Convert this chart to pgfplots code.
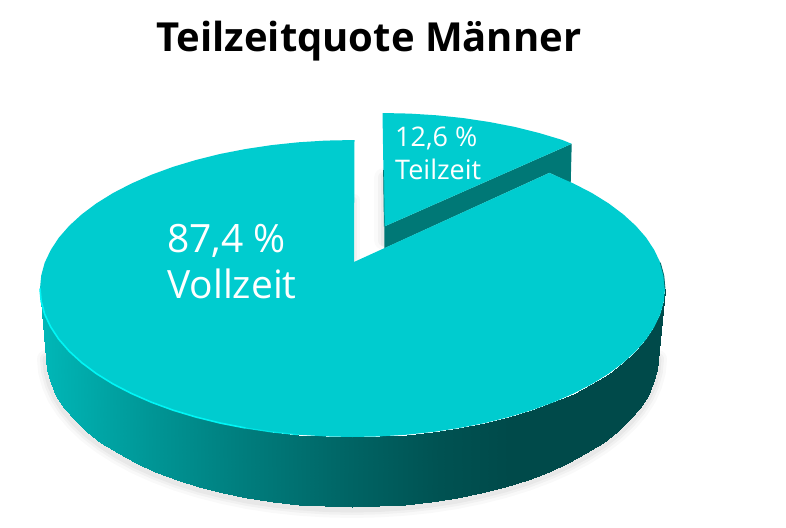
\documentclass[border=0pt]{standalone}
\usepackage{pgfplots}
\pgfplotsset{compat=1.18}
\usepackage{pgfplotstable}
\usepackage{fontspec}
\setmainfont{Open Sans}

% lower rim of the big slice's side
\pgfplotstableread{
x y
46.0 357.0
47.2 370.1
50.7 383.0
56.4 395.8
64.5 408.3
74.7 420.4
87.0 432.0
101.3 443.0
117.6 453.4
135.6 463.1
155.3 471.9
176.5 479.9
199.0 486.9
222.7 492.9
247.3 498.0
272.8 501.9
298.9 504.7
325.3 506.4
352.0 507.0
378.7 506.4
405.1 504.7
431.2 501.9
456.7 498.0
481.3 492.9
505.0 486.9
527.5 479.9
548.7 471.9
568.4 463.1
586.4 453.4
602.7 443.0
617.0 432.0
629.3 420.4
639.5 408.3
647.6 395.8
653.3 383.0
656.8 370.1
658.0 357.0
}\rimlow

\definecolor{pietop}{RGB}{0,204,207}
\definecolor{smallside}{RGB}{0,120,118}

\begin{document}
\begin{tikzpicture}
\begin{axis}[
    x=1pt, y=1pt,
    xmin=0, xmax=786,
    ymin=0, ymax=527,
    y dir=reverse,
    hide axis,
    clip=false,
    point meta min=40, point meta max=665,
    colormap={side}{
        rgb255(40pt)=(0,184,184);
        rgb255(150pt)=(0,150,150);
        rgb255(240pt)=(0,126,126);
        rgb255(350pt)=(0,100,100);
        rgb255(440pt)=(0,82,82);
        rgb255(510pt)=(0,74,74);
        rgb255(665pt)=(0,74,74)
    },
]
\path (axis cs:0,0) rectangle (axis cs:786,527);

% soft shadow under the pie
\addplot[black, opacity=0.025, line width=18pt, line join=round, line cap=round, yshift=-2pt] table {\rimlow};
\addplot[black, opacity=0.03, line width=12pt, line join=round, line cap=round, yshift=-2pt] table {\rimlow};
\addplot[black, opacity=0.04, line width=7pt, line join=round, line cap=round, yshift=-2pt] table {\rimlow};

% shadow in the gap
\addplot[black, opacity=0.02, line width=20pt, line cap=round] coordinates {(384,178) (384,240)};
\addplot[black, opacity=0.03, line width=13pt, line cap=round] coordinates {(384,178) (384,240)};
\addplot[black, opacity=0.035, line width=6pt, line cap=round] coordinates {(384,176) (384,244)};
\addplot[black, opacity=0.025, line width=12pt, line cap=round] coordinates {(354,200) (354,258)};
\addplot[black, opacity=0.03, line width=6pt, line cap=round] coordinates {(354,200) (354,258)};

% small slice
\addplot[fill=smallside, draw=none] coordinates {
    (384.3,226.5) (571.7,143.8) (570.7,183) (549.5,172.8) (384.3,248.3)} -- cycle;
\addplot[fill=pietop, draw=none] coordinates {
    (382.5,113.0) (409.8,113.6) (436.8,115.3) (463.4,118.1) (489.4,122.0)
    (514.6,126.9) (538.8,132.9) (561.8,139.8) (571.7,143.8) (384.3,226.5)} -- cycle;
\addplot[color=smallside, line width=0.7pt] coordinates {(383.5,170) (384.3,226.5)};

% side of the big slice
\addplot[surf, shader=interp, mesh/rows=2, point meta=x] coordinates {
    (40.0,288.5) (41.2,301.4) (44.7,314.3) (50.7,326.9) (58.8,339.3) (69.3,351.3)
    (81.9,362.8) (96.5,373.7) (113.1,384.0) (131.5,393.5) (151.6,402.3) (173.2,410.2)
    (196.2,417.1) (220.4,423.1) (245.6,428.0) (271.6,431.9) (298.2,434.7) (325.2,436.4)
    (352.5,437.0) (379.8,436.4) (406.8,434.7) (433.4,431.9) (459.4,428.0) (484.6,423.1)
    (508.8,417.1) (531.8,410.2) (553.4,402.3) (573.5,393.5) (591.9,384.0) (608.5,373.7)
    (623.1,362.8) (635.7,351.3) (646.2,339.3) (654.3,326.9) (660.3,314.3) (663.8,301.4)
    (665.0,288.5)

    (46.0,357.0) (47.2,370.1) (50.7,383.0) (56.4,395.8) (64.5,408.3) (74.7,420.4)
    (87.0,432.0) (101.3,443.0) (117.6,453.4) (135.6,463.1) (155.3,471.9) (176.5,479.9)
    (199.0,486.9) (222.7,492.9) (247.3,498.0) (272.8,501.9) (298.9,504.7) (325.3,506.4)
    (352.0,507.0) (378.7,506.4) (405.1,504.7) (431.2,501.9) (456.7,498.0) (481.3,492.9)
    (505.0,486.9) (527.5,479.9) (548.7,471.9) (568.4,463.1) (586.4,453.4) (602.7,443.0)
    (617.0,432.0) (629.3,420.4) (639.5,408.3) (647.6,395.8) (653.3,383.0) (656.8,370.1)
    (658.0,357.0)
};

% top of the big slice
\addplot[fill=pietop, draw=none] coordinates {
    (354.5,140.0) (325.2,140.6) (298.2,142.3) (271.6,145.1) (245.6,149.0) (220.4,153.9)
    (196.2,159.9) (173.2,166.8) (151.6,174.7) (131.5,183.5) (113.1,193.0) (96.5,203.3)
    (81.9,214.2) (69.3,225.7) (58.8,237.7) (50.7,250.1) (44.7,262.7) (41.2,275.6)
    (40.0,288.5) (41.2,301.4) (44.7,314.3) (50.7,326.9) (58.8,339.3) (69.3,351.3)
    (81.9,362.8) (96.5,373.7) (113.1,384.0) (131.5,393.5) (151.6,402.3) (173.2,410.2)
    (196.2,417.1) (220.4,423.1) (245.6,428.0) (271.6,431.9) (298.2,434.7) (325.2,436.4)
    (352.5,437.0) (379.8,436.4) (406.8,434.7) (433.4,431.9) (459.4,428.0) (484.6,423.1)
    (508.8,417.1) (531.8,410.2) (553.4,402.3) (573.5,393.5) (591.9,384.0) (608.5,373.7)
    (623.1,362.8) (635.7,351.3) (646.2,339.3) (654.3,326.9) (660.3,314.3) (663.8,301.4)
    (665.0,288.5) (663.8,275.6) (660.3,262.7) (654.3,250.1) (646.2,237.7) (635.7,225.7)
    (623.1,214.2) (608.5,203.3) (591.9,193.0) (573.5,183.5) (553.4,174.7) (549.5,172.8)
    (354,262)} -- cycle;

% bright rim on the left, dark one on the right
\addplot[color={rgb,255:red,0;green,245;blue,245}, line width=1.6pt] coordinates {
    (40.0,288.5) (41.2,301.4) (44.7,314.3) (50.7,326.9) (58.8,339.3) (69.3,351.3)
    (81.9,362.8) (96.5,373.7) (113.1,384.0) (131.5,393.5) (151.6,402.3) (173.2,410.2)
    (196.2,417.1) (220.4,423.1) (245.6,428.0)};
\addplot[color={rgb,255:red,0;green,228;blue,228}, line width=1.2pt] coordinates {
    (245.6,428.0) (271.6,431.9) (298.2,434.7)};
\addplot[color={rgb,255:red,0;green,110;blue,110}, line width=0.8pt] coordinates {
    (660.3,262.7) (663.8,275.6) (665.0,288.5)};

% texts
\node[anchor=base west, inner sep=0pt, font=\fontsize{40}{48}\selectfont\bfseries] at (axis cs:156,52) {Teilzeitquote Männer};
\node[anchor=base west, inner sep=0pt, text=white, font=\fontsize{39}{47}\selectfont] at (axis cs:167,252) {87,4 \%};
\node[anchor=base west, inner sep=0pt, text=white, font=\fontsize{39}{47}\selectfont] at (axis cs:167,298) {Vollzeit};
\node[anchor=base west, inner sep=0pt, text=white, font=\fontsize{27}{33}\selectfont] at (axis cs:395,146) {12,6 \%};
\node[anchor=base west, inner sep=0pt, text=white, font=\fontsize{27}{33}\selectfont] at (axis cs:395,179) {Teilzeit};
\end{axis}
\end{tikzpicture}
\end{document}
